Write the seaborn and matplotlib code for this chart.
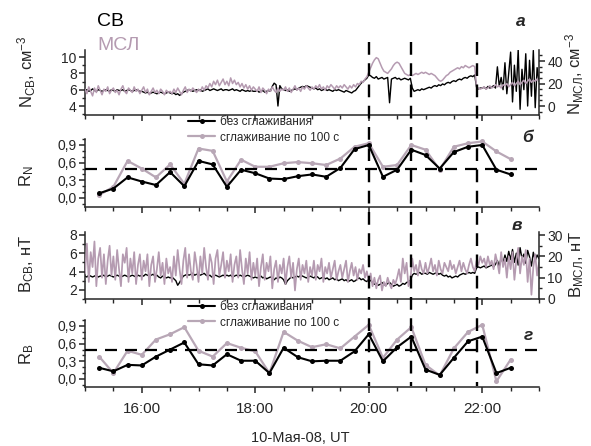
import numpy as np
import pandas as pd
import matplotlib
matplotlib.use("Agg")
import matplotlib.pyplot as plt
import seaborn as sns
from matplotlib.lines import Line2D
from matplotlib.transforms import blended_transform_factory
from matplotlib.ticker import MultipleLocator, FixedLocator, FuncFormatter

# ---------------------------------------------------------------- data
# 2-minute samples from 15:00 to 23:00 UT
t_hours = 15 + np.arange(241) * 2 / 60

# solar-wind density, cm^-3 (left axis of panel a)
n_sw = [
    5.9, 6.0, 5.8, 5.9, 6.1, 5.9, 5.8, 6.0, 5.9, 5.8, 5.9, 6.0, 5.9, 5.8, 6.0,
    5.9, 5.8, 6.0, 5.9, 5.9, 6.0, 5.8, 5.9, 6.0, 5.9, 5.8, 5.9, 6.0, 5.9, 5.8,
    5.8, 5.7, 5.6, 5.7, 5.5, 5.6, 5.7, 5.6, 5.5, 5.6, 5.7, 5.6, 5.5, 5.6, 5.7,
    5.6, 5.5, 5.6, 5.4, 5.5, 5.3, 5.5, 5.7, 5.8, 5.9, 6.0, 5.9, 5.8, 5.9, 6.0,
    5.9, 6.0, 5.8, 5.9, 6.0, 6.1, 5.9, 6.0, 6.1, 6.0, 5.9, 6.0, 6.1, 5.9, 6.0,
    6.0, 5.9, 6.0, 6.1, 5.9, 6.0, 5.9, 5.8, 6.0, 5.9, 5.8, 5.9, 5.8, 5.9, 5.8,
    5.8, 5.9, 5.7, 5.8, 5.9, 5.7, 5.8, 5.9, 5.8, 6.4, 6.8, 6.6, 4.0, 6.5, 6.1,
    6.0, 5.9, 6.0, 5.8, 5.9, 6.0, 6.1, 6.0, 6.2, 6.3, 6.4, 6.3, 6.5, 6.4, 6.3,
    6.2, 6.1, 6.2, 6.0, 6.1, 5.9, 6.0, 6.1, 5.9, 6.0, 5.9, 5.8, 6.0, 5.9, 6.0,
    5.9, 5.8, 5.7, 5.9, 5.8, 5.7, 5.6, 5.8, 5.9, 6.2, 6.5, 6.8, 7.0, 7.2, 7.4,
    7.8, 7.7, 7.5, 7.4, 7.6, 7.3, 7.4, 7.5, 7.3, 7.4, 7.5, 4.4, 7.3, 7.4, 7.5,
    7.3, 7.4, 7.2, 7.3, 7.4, 7.3, 7.2, 7.4, 6.2, 5.8, 5.9, 6.0, 5.9, 6.1, 6.0,
    6.1, 6.2, 6.3, 6.2, 6.4, 6.5, 6.4, 6.6, 6.5, 6.7, 6.6, 6.8, 6.9, 6.8, 7.0,
    7.1, 7.0, 7.2, 7.3, 7.2, 7.4, 7.5, 7.4, 7.6, 7.7, 7.6, 7.8, 6.3, 6.1, 6.2,
    6.2, 6.3, 6.1, 6.4, 6.2, 6.3, 6.5, 6.2, 8.8, 6.4, 7.5, 6.0, 9.3, 5.5, 8.0,
    10.6, 4.5, 9.0, 5.8, 10.9, 3.6, 8.5, 6.0, 10.4, 4.0, 9.6, 5.2, 10.8, 3.8, 8.7,
    7.0,
]

# magnetosheath density, cm^-3 (right axis of panel a)
n_msl = [
    15, 11, 17, 13, 9, 16, 12, 18, 14, 10, 15, 13, 17, 11, 14,
    16, 12, 14, 10, 15, 18, 13, 11, 16, 14, 12, 17, 13, 15, 11,
    14, 17, 12, 15, 10, 13, 16, 12, 14, 11, 15, 13, 10, 14, 12,
    13, 11, 15, 12, 16, 13, 10, 14, 17, 12, 15, 13, 16, 14, 12,
    15, 13, 17, 14, 18, 16, 20, 17, 22, 19, 23, 18, 21, 24, 19,
    22, 18, 25, 20, 23, 19, 21, 17, 20, 16, 19, 15, 18, 14, 17,
    15, 13, 17, 12, 16, 14, 11, 15, 13, 17, 14, 12, 16, 13, 15,
    14, 17, 13, 16, 12, 15, 18, 14, 16, 13, 17, 15, 18, 16, 14,
    17, 15, 18, 16, 19, 15, 17, 14, 18, 16, 19, 17, 15, 18, 16,
    18, 16, 19, 17, 15, 18, 16, 19, 17, 20, 19, 22, 21, 24, 26,
    30, 34, 38, 41, 43, 42, 38, 34, 31, 30, 29, 31, 33, 36, 38,
    39, 38, 35, 32, 29, 28, 27, 28, 27, 28, 29, 28, 29, 30, 29,
    30, 29, 28, 29, 28, 27, 25, 23, 22, 23, 25, 27, 28, 30, 31,
    32, 33, 34, 33, 35, 34, 36, 35, 34, 35, 36, 35, 17, 16, 15,
    16, 17, 15, 16, 18, 16, 17, 19, 17, 18, 16, 19, 18, 20, 17,
    19, 21, 18, 20, 22, 19, 21, 23, 20, 22, 24, 21, 23, 22, 24,
    22,
]

# solar-wind magnetic field, nT (left axis of panel в)
b_sw = [
    3.5, 3.4, 3.6, 3.5, 3.4, 3.5, 3.6, 3.4, 3.5, 3.5, 3.6, 3.4, 3.5, 3.6, 3.5,
    3.4, 3.5, 3.6, 3.5, 3.4, 3.5, 3.6, 3.5, 3.4, 3.5, 3.6, 3.5, 3.4, 3.6, 3.5,
    3.6, 3.5, 3.7, 3.6, 3.5, 3.6, 3.7, 3.5, 3.6, 3.4, 3.3, 3.5, 3.4, 3.3, 3.4,
    3.3, 3.4, 3.2, 3.0, 2.5, 2.8, 3.2, 3.5, 3.6, 3.7, 3.6, 3.7, 3.8, 3.6, 3.7,
    3.7, 3.6, 3.7, 3.8, 3.6, 3.5, 3.6, 3.4, 3.5, 3.6, 3.5, 3.4, 3.5, 3.6, 3.5,
    3.6, 3.5, 3.6, 3.4, 3.5, 3.6, 3.5, 3.6, 3.5, 3.4, 3.5, 3.6, 3.5, 3.4, 3.3,
    3.4, 3.3, 3.4, 3.5, 3.3, 3.4, 3.2, 3.3, 3.4, 3.3, 3.1, 3.3, 3.2, 3.4, 3.3,
    3.1, 2.6, 3.0, 3.2, 3.4, 3.3, 3.4, 3.5, 3.4, 3.6, 3.5, 3.4, 3.3, 3.4, 3.5,
    3.4, 3.3, 3.5, 3.4, 3.2, 3.3, 3.4, 3.2, 3.3, 3.1, 3.2, 3.3, 3.1, 3.2, 3.0,
    3.1, 3.2, 3.0, 3.1, 2.9, 3.0, 3.1, 2.9, 3.0, 3.2, 3.3, 3.1, 3.2, 3.0, 2.9,
    3.2, 3.0, 2.8, 2.6, 2.7, 2.5, 2.6, 2.8, 2.6, 2.5, 2.7, 2.8, 2.6, 2.4, 2.5,
    2.6, 2.4, 2.5, 2.7, 2.6, 2.8, 2.9, 3.0, 3.6, 3.8, 3.7, 3.8, 3.9, 3.7, 3.8,
    3.8, 3.7, 3.9, 3.8, 3.7, 3.8, 3.9, 3.7, 3.8, 3.6, 3.5, 3.6, 3.4, 3.5, 3.3,
    3.4, 3.5, 3.4, 3.6, 3.7, 3.8, 3.7, 3.8, 3.9, 3.8, 3.9, 3.8, 4.4, 4.5, 4.4,
    4.5, 4.6, 4.4, 4.5, 4.6, 4.7, 4.5, 4.8, 5.2, 4.6, 5.5, 4.9, 5.8, 5.1, 6.2,
    5.3, 6.4, 5.0, 6.0, 4.7, 6.6, 5.4, 5.9, 4.9, 6.3, 5.6, 4.6, 6.1, 5.2, 5.8,
    5.4,
]

# magnetosheath magnetic field, nT (right axis of panel в)
b_msl = [
    12, 26, 8, 22, 15, 27, 6, 19, 24, 10, 21, 7, 18, 25, 11,
    20, 9, 23, 14, 6, 21, 17, 24, 8, 19, 12, 22, 7, 16, 21,
    9, 18, 13, 21, 6, 16, 20, 8, 14, 22, 11, 17, 7, 19, 12,
    15, 8, 20, 11, 23, 14, 7, 18, 24, 10, 21, 13, 9, 22, 16,
    8, 20, 12, 24, 15, 9, 21, 17, 7, 19, 23, 11, 16, 22, 10,
    18, 13, 21, 8, 16, 20, 10, 23, 14, 7, 19, 12, 22, 9, 17,
    11, 19, 6, 15, 21, 9, 17, 13, 20, 5, 14, 18, 8, 16, 12,
    19, 7, 15, 20, 10, 17, 4, 14, 19, 9, 16, 12, 18, 8, 15,
    11, 18, 9, 16, 13, 19, 8, 15, 12, 17, 10, 14, 18, 9, 13,
    16, 10, 14, 18, 8, 13, 17, 11, 15, 9, 14, 12, 16, 10, 13,
    8, 12, 6, 10, 5, 9, 11, 4, 8, 6, 10, 7, 5, 9, 7,
    10, 14, 8, 19, 12, 17, 6, 9, 19, 13, 16, 11, 18, 14, 12,
    17, 12, 15, 19, 13, 16, 11, 18, 14, 12, 17, 15, 13, 18, 14,
    16, 12, 15, 18, 13, 17, 14, 12, 16, 19, 15, 13, 18, 16, 20,
    17, 19, 15, 20, 16, 18, 14, 21, 17, 12, 22, 15, 19, 10, 20,
    14, 22, 9, 18, 24, 12, 20, 16, 23, 8, 19, 2, 15, 21, 11,
    17,
]

# correlation coefficients, 15-minute windows from 15:15 to 22:30
r_hours = 15.25 + np.arange(30) * 0.25
rn_raw = [0.08, 0.16, 0.35, 0.28, 0.22, 0.44, 0.20, 0.63, 0.57, 0.19,
          0.48, 0.42, 0.33, 0.32, 0.37, 0.40, 0.36, 0.51, 0.83, 0.90,
          0.36, 0.48, 0.82, 0.73, 0.50, 0.78, 0.87, 0.90, 0.48, 0.40]
rn_smooth = [0.05, 0.19, 0.63, 0.50, 0.35, 0.57, 0.24, 0.84, 0.80, 0.28,
             0.65, 0.53, 0.53, 0.59, 0.61, 0.59, 0.56, 0.67, 0.87, 0.93,
             0.53, 0.56, 0.90, 0.82, 0.48, 0.87, 0.93, 0.96, 0.79, 0.66]
rb_raw = [0.19, 0.13, 0.24, 0.23, 0.38, 0.50, 0.62, 0.25, 0.23, 0.42,
          0.31, 0.31, 0.10, 0.53, 0.37, 0.30, 0.31, 0.31, 0.47, 0.76,
          0.30, 0.54, 0.72, 0.16, 0.07, 0.36, 0.64, 0.72, 0.10, 0.19]
rb_smooth = [0.38, 0.10, 0.48, 0.41, 0.67, 0.76, 0.88, 0.48, 0.38, 0.61,
             0.53, 0.47, 0.10, 0.80, 0.65, 0.54, 0.59, 0.52, 0.72, 0.92,
             0.36, 0.67, 0.88, 0.24, 0.06, 0.52, 0.80, 0.92, -0.04, 0.33]

event_hours = [20.0, 20.75, 21.9]
r_threshold = 0.5
hour_ticks = [16, 18, 20, 22]
hour_labels = ["16:00", "18:00", "20:00", "22:00"]

# ---------------------------------------------------------------- style
sns.set_theme(style="ticks")
plt.rcParams["font.family"] = ["Liberation Sans", "DejaVu Sans"]
plt.rcParams.update({
    "mathtext.fontset": "custom",
    "mathtext.rm": "Liberation Sans",
    "mathtext.it": "Liberation Sans:italic",
    "mathtext.bf": "Liberation Sans:bold",
    "axes.linewidth": 1.1,
    "xtick.major.width": 1.1, "ytick.major.width": 1.1,
    "xtick.minor.width": 1.0, "ytick.minor.width": 1.0,
    "xtick.major.size": 4.5, "ytick.major.size": 4.0,
    "xtick.minor.size": 3.0, "ytick.minor.size": 2.5,
    "xtick.direction": "out", "ytick.direction": "out",
})

BLACK = "#000000"
MAUVE = "#b59bb1"
GREYMAUVE = "#b8a7b6"
DASH = (0, (5.4, 3.6))

W, H = 591, 446
fig = plt.figure(figsize=(W / 100, H / 100), dpi=100)


def box(top, bottom, left=85, right=539):
    return [left / W, 1 - bottom / H, (right - left) / W, (bottom - top) / H]


ax_n = fig.add_axes(box(50, 115))
ax_rn = fig.add_axes(box(139.1, 207))
ax_b = fig.add_axes(box(232.1, 299))
ax_rb = fig.add_axes(box(320.1, 387))
ax_n2 = ax_n.twinx()
ax_b2 = ax_b.twinx()

comma = FuncFormatter(lambda v, p: f"{v:.1f}".replace(".", ","))

for ax in (ax_n, ax_rn, ax_b, ax_rb):
    ax.set_xlim(15, 23)
    ax.xaxis.set_major_locator(FixedLocator(hour_ticks))
    ax.xaxis.set_minor_locator(MultipleLocator(0.5))
    ax.spines["top"].set_visible(False)
    ax.spines["right"].set_visible(False)
    ax.tick_params(axis="x", labelbottom=False)
    ax.tick_params(axis="y", labelsize=10, pad=2)
    ax.set_xlabel("")
    ax.set_ylabel("")

for ax in (ax_n2, ax_b2):
    ax.set_xlim(15, 23)
    for s in ("top", "left", "bottom"):
        ax.spines[s].set_visible(False)
    ax.tick_params(axis="y", labelsize=10, pad=2)
    ax.set_ylabel("")

ax_rb.tick_params(axis="x", labelbottom=True, labelsize=11, pad=6)
ax_rb.set_xticklabels(hour_labels)

# ---------------------------------------------------------------- panel a
sns.lineplot(x=t_hours, y=n_sw, ax=ax_n, color=BLACK, lw=1.0,
             estimator=None, errorbar=None, sort=False)
sns.lineplot(x=t_hours, y=n_msl, ax=ax_n2, color=MAUVE, lw=1.1,
             estimator=None, errorbar=None, sort=False)
ax_n.set_ylim(2.9, 10.86)
ax_n.yaxis.set_major_locator(FixedLocator([4, 6, 8, 10]))
ax_n.yaxis.set_minor_locator(MultipleLocator(1))
ax_n2.set_ylim(-8, 49.8)
ax_n2.yaxis.set_major_locator(FixedLocator([0, 20, 40]))
ax_n2.yaxis.set_minor_locator(MultipleLocator(5))

# ---------------------------------------------------------------- panel в
sns.lineplot(x=t_hours, y=b_sw, ax=ax_b, color=BLACK, lw=1.0,
             estimator=None, errorbar=None, sort=False)
sns.lineplot(x=t_hours, y=b_msl, ax=ax_b2, color=MAUVE, lw=1.25,
             estimator=None, errorbar=None, sort=False)
ax_b.set_ylim(1.0, 8.3)
ax_b.yaxis.set_major_locator(FixedLocator([2, 4, 6, 8]))
ax_b.yaxis.set_minor_locator(MultipleLocator(1))
ax_b2.set_ylim(0, 31.4)
ax_b2.yaxis.set_major_locator(FixedLocator([0, 10, 20, 30]))
ax_b2.yaxis.set_minor_locator(MultipleLocator(5))

# ---------------------------------------------------------------- R panels
labels = ["без сглаживания", "сглаживание по 100 с"]
for ax, raw, smooth, leg_top in ((ax_rn, rn_raw, rn_smooth, 116),
                                 (ax_rb, rb_raw, rb_smooth, 301)):
    sns.lineplot(x=r_hours, y=smooth, ax=ax, color=GREYMAUVE, lw=1.6,
                 marker="o", markersize=3.6, markeredgewidth=0,
                 estimator=None, errorbar=None, sort=False)
    sns.lineplot(x=r_hours, y=raw, ax=ax, color=BLACK, lw=1.5,
                 marker="o", markersize=3.6, markeredgewidth=0,
                 estimator=None, errorbar=None, sort=False)
    ax.axhline(r_threshold, color=BLACK, lw=1.6, ls=DASH, zorder=5)
    ax.set_ylim(-0.153 if ax is ax_rn else -0.136, 1.0)
    ax.yaxis.set_major_locator(FixedLocator([0.0, 0.3, 0.6, 0.9]))
    ax.yaxis.set_minor_locator(MultipleLocator(0.1))
    ax.yaxis.set_major_formatter(comma)
    handles = [Line2D([], [], color=BLACK, lw=1.5, marker="o", ms=3.6, mew=0),
               Line2D([], [], color=GREYMAUVE, lw=1.6, marker="o", ms=3.6, mew=0)]
    leg = ax.legend(handles, labels, loc="upper left", frameon=False,
                    bbox_to_anchor=(188 / W, 1 - leg_top / H),
                    bbox_transform=fig.transFigure, fontsize=8.5,
                    handlelength=2.3, handletextpad=0.4, labelspacing=0.3,
                    borderpad=0, borderaxespad=0)
    leg.set_zorder(6)

# ---------------------------------------------------------------- event lines
trans = blended_transform_factory(ax_rb.transData, fig.transFigure)
for t in event_hours:
    fig.add_artist(Line2D([t, t], [1 - 42 / H, 1 - 386 / H], transform=trans,
                          color=BLACK, lw=1.7, ls=DASH))

# ---------------------------------------------------------------- texts
fig.text(97 / W, 1 - 21 / H, "СВ", fontsize=14, color=BLACK, va="center")
fig.text(97 / W, 1 - 45 / H, "МСЛ", fontsize=14, color=MAUVE, va="center")

ylab = dict(rotation=90, ha="center", va="center", fontsize=12)
fig.text(27 / W, 1 - 72 / H, r"N$_{\mathrm{СВ}}$, см$^{\mathrm{-3}}$", **ylab)
fig.text(27 / W, 1 - 176 / H, r"R$_{\mathrm{N}}$", **ylab)
fig.text(27 / W, 1 - 264 / H, r"B$_{\mathrm{СВ}}$, нТ", **ylab)
fig.text(27 / W, 1 - 354 / H, r"R$_{\mathrm{B}}$", **ylab)
fig.text(575 / W, 1 - 74 / H, r"N$_{\mathrm{МСЛ}}$, см$^{\mathrm{-3}}$", **ylab)
fig.text(577 / W, 1 - 264 / H, r"B$_{\mathrm{МСЛ}}$, нТ", **ylab)

letter = dict(fontsize=12.5, fontweight="bold", fontstyle="italic",
              ha="center", va="center")
fig.text(521 / W, 1 - 22 / H, "а", **letter)
fig.text(528 / W, 1 - 138 / H, "б", **letter)
fig.text(517 / W, 1 - 225 / H, "в", **letter)
fig.text(528 / W, 1 - 335 / H, "г", **letter)

fig.text(300 / W, 1 - 438 / H, "10-Мая-08, UT", fontsize=10.5,
         ha="center", va="center")

fig.savefig("out.png", dpi=100)
